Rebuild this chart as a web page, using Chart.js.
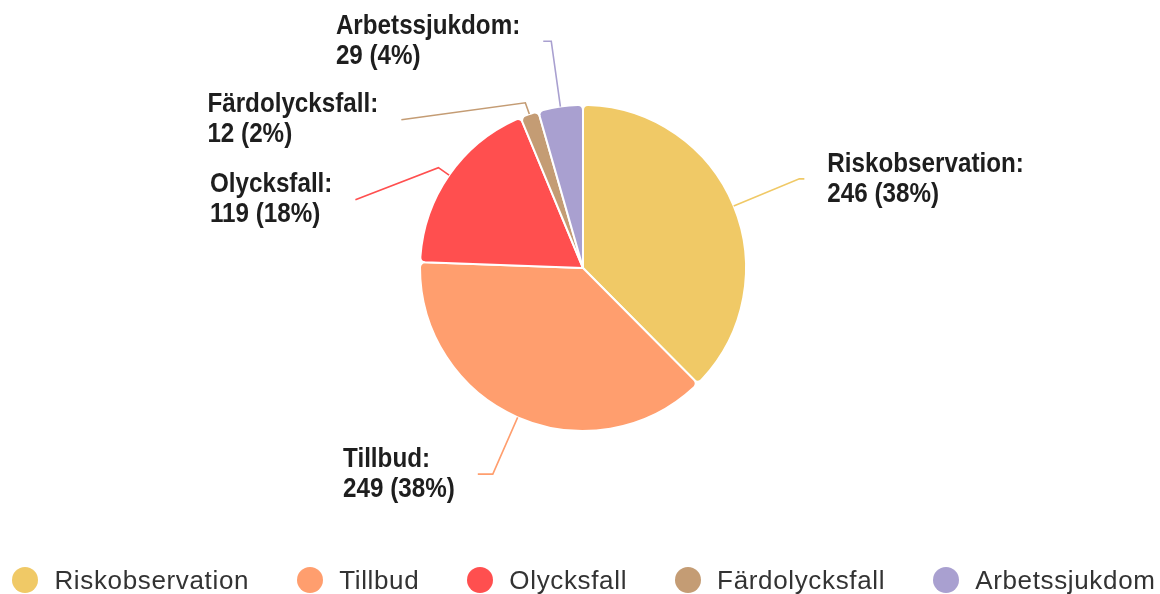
<!DOCTYPE html>
<html lang="sv">
<head>
<meta charset="utf-8">
<title>Ärenden per kategori</title>
<script src="https://cdn.jsdelivr.net/npm/chart.js@4/dist/chart.umd.min.js"></script>
<style>
  body { margin: 0; background: #fff; }
  #wrap { position: relative; width: 1160px; height: 594px; }
  #legend {
    position: absolute; left: 4px; top: 567px; width: 1160px; height: 26px;
    display: flex; justify-content: center; align-items: center; gap: 48px;
    font-family: "Liberation Sans", Arial, sans-serif; font-size: 26px;
    letter-spacing: 0.65px; color: #333; line-height: 26px;
  }
  #legend .item { display: flex; align-items: center; white-space: nowrap; }
  #legend .dot { width: 26px; height: 26px; border-radius: 50%; margin-right: 16px; }
</style>
</head>
<body>
<div id="wrap">
  <canvas id="chart" width="1160" height="594"></canvas>
  <div id="legend"></div>
</div>
<script>
const categories = ['Riskobservation', 'Tillbud', 'Olycksfall', 'Färdolycksfall', 'Arbetssjukdom'];
const counts = [246, 249, 119, 12, 29];

const sliceColors = ['#f0c966', '#ff9e6e', '#ff4f4f', '#c49c74', '#a9a0d0'];

// leader line per slice: bend = distance past the rim to the elbow,
// dx/dy = tail from the elbow to where the text hangs
const leaders = [
  { bend: 71, dx: 5, dy: 0 },
  { bend: 62, dx: -15, dy: 0 },
  { bend: 13, dx: -83, dy: 32 },
  { bend: 12, dx: -124, dy: 17 },
  { bend: 66, dx: -8, dy: 0 }
];

const calloutLabels = {
  id: 'calloutLabels',
  afterDatasetsDraw(chart, args, opts) {
    const ctx = chart.ctx;
    const meta = chart.getDatasetMeta(0);
    const values = chart.data.datasets[0].data;
    const total = values.reduce((a, b) => a + b, 0);
    meta.data.forEach((arc, i) => {
      const p = arc.getProps(['x', 'y', 'startAngle', 'endAngle', 'outerRadius'], true);
      const mid = (p.startAngle + p.endAngle) / 2;
      const ux = Math.cos(mid), uy = Math.sin(mid);
      const lay = opts.leaders[i];
      const x0 = p.x + ux * p.outerRadius, y0 = p.y + uy * p.outerRadius;
      const x1 = p.x + ux * (p.outerRadius + lay.bend), y1 = p.y + uy * (p.outerRadius + lay.bend);
      const x2 = x1 + lay.dx, y2 = y1 + lay.dy;

      ctx.save();
      ctx.strokeStyle = chart.data.datasets[0].backgroundColor[i];
      ctx.lineWidth = 1.6;
      ctx.beginPath();
      ctx.moveTo(x0, y0);
      ctx.lineTo(x1, y1);
      ctx.lineTo(x2, y2);
      ctx.stroke();

      const lines = [
        chart.data.labels[i] + ':',
        values[i] + ' (' + Math.round(values[i] / total * 100) + '%)'
      ];
      ctx.font = opts.font;
      ctx.fillStyle = opts.color;
      ctx.textBaseline = 'middle';
      ctx.textAlign = 'left';
      const sx = opts.squeeze;
      const w = Math.max(...lines.map(t => ctx.measureText(t).width)) * sx;
      const left = x2 > p.x ? x2 + opts.gap : x2 - opts.gap - w;
      lines.forEach((t, k) => {
        const ty = y2 + (k - 0.5) * opts.lineHeight;
        ctx.save();
        ctx.translate(left, ty);
        ctx.scale(sx, 1);
        ctx.fillText(t, 0, 0);
        ctx.restore();
      });
      ctx.restore();
    });
  }
};

const htmlLegend = {
  id: 'htmlLegend',
  afterUpdate(chart) {
    const box = document.getElementById('legend');
    box.innerHTML = '';
    const items = chart.options.plugins.legend.labels.generateLabels(chart);
    items.forEach(item => {
      const el = document.createElement('div');
      el.className = 'item';
      const dot = document.createElement('span');
      dot.className = 'dot';
      dot.style.background = item.fillStyle;
      const txt = document.createElement('span');
      txt.textContent = item.text;
      el.appendChild(dot);
      el.appendChild(txt);
      box.appendChild(el);
    });
  }
};

new Chart(document.getElementById('chart'), {
  type: 'pie',
  data: {
    labels: categories,
    datasets: [{
      data: counts,
      backgroundColor: sliceColors,
      borderColor: '#ffffff',
      borderWidth: 2,
      borderRadius: 5
    }]
  },
  options: {
    responsive: false,
    animation: false,
    layout: { padding: { top: 104, bottom: 162, left: 6, right: 0 } },
    plugins: {
      legend: { display: false },
      tooltip: { enabled: false },
      calloutLabels: {
        leaders: leaders,
        font: 'bold 28px "Liberation Sans", Arial, sans-serif',
        color: '#1e1e1e',
        squeeze: 0.865,
        gap: 23,
        lineHeight: 30
      }
    }
  },
  plugins: [calloutLabels, htmlLegend]
});
</script>
</body>
</html>
